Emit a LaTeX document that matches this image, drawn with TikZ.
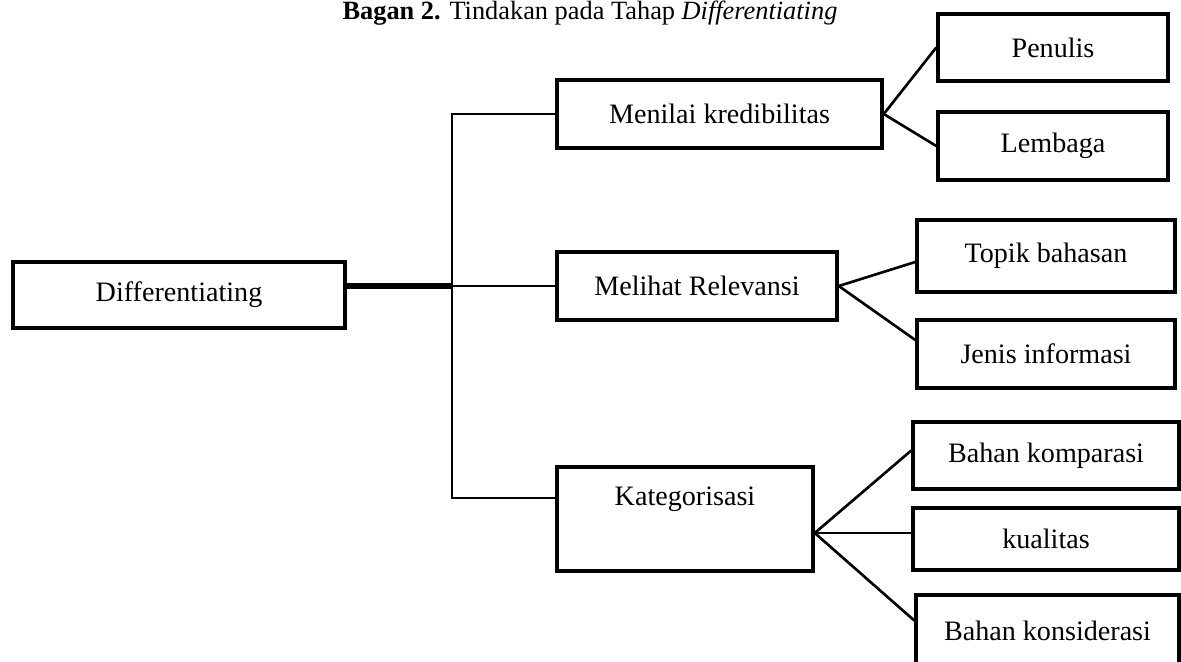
\documentclass[tikz,border=0pt]{standalone}
\usepackage{fontspec}
\setmainfont{Liberation Serif}
\usetikzlibrary{positioning}

\begin{document}
\begin{tikzpicture}[
  box/.style={draw, line width=2pt, inner sep=0pt, minimum height=1.36cm, align=center, font=\fontsize{16}{19}\selectfont},
  link/.style={line width=1.5pt},
  trunk/.style={line width=3pt},
]
  \useasboundingbox (0,0) rectangle (23.62,-13.22);
  \clip (0,0) rectangle (23.62,-13.22);

  % Caption
  \node[anchor=base, font=\fontsize{15}{18}\selectfont] (title) at (11.8,-0.38) {\textbf{Bagan 2.} Tindakan pada Tahap \textit{Differentiating}};

  % Root
  \node[box, minimum width=6.64cm, minimum height=1.32cm] (diff) at (3.58,-5.90) {Differentiating};

  % Level 2
  \node[box, minimum width=6.50cm] (menilai) at (14.39,-2.28) {Menilai kredibilitas};
  \node[box, minimum width=5.60cm] (melihat) at (13.94,-5.72) {Melihat Relevansi};
  \node[box, minimum width=5.12cm, text height=0.76cm, text depth=1.32cm] (kateg) at (13.70,-10.38) {Kategorisasi};

  % Level 3
  \node[box, minimum width=4.60cm, minimum height=1.34cm] (penulis) at (21.06,-0.95) {Penulis};
  \node[box, minimum width=4.60cm] (lembaga) at (21.06,-2.92) {Lembaga};
  \node[box, minimum width=5.16cm, minimum height=1.44cm] (topik) at (20.92,-5.12) {Topik bahasan};
  \node[box, minimum width=5.16cm] (jenis) at (20.92,-7.08) {Jenis informasi};
  \node[box, minimum width=5.32cm, minimum height=1.34cm] (komparasi) at (20.92,-9.11) {Bahan komparasi};
  \node[box, minimum width=5.32cm, minimum height=1.24cm] (kualitas) at (20.92,-10.78) {kualitas};
  \node[box, minimum width=5.26cm, minimum height=1.42cm] (konsid) at (20.95,-12.61) {Bahan konsiderasi};

  % Fork from root
  \coordinate (fork) at (9.04,-5.72);
  \draw[trunk] (diff.east |- fork) -- (fork);
  \draw[link] (fork) -- (melihat.west);
  \draw[link] (menilai.west) -| (fork) |- ([yshift=0.42cm]kateg.west);

  % Menilai kredibilitas
  \draw[link] (menilai.east) -- (penulis.west);
  \draw[link] (menilai.east) -- (lembaga.west);

  % Melihat Relevansi
  \draw[link] (melihat.east) -- ([yshift=-0.12cm]topik.west);
  \draw[link] (melihat.east) -- ([yshift=0.28cm]jenis.west);

  % Kategorisasi
  \coordinate (kj) at ([yshift=-0.28cm]kateg.east);
  \draw[link] (kj) -- ([yshift=0.1cm]komparasi.west);
  \draw[link] (kj) -- (kj -| kualitas.west);
  \draw[link] (kj) -- ([yshift=0.2cm]konsid.west);
\end{tikzpicture}
\end{document}
